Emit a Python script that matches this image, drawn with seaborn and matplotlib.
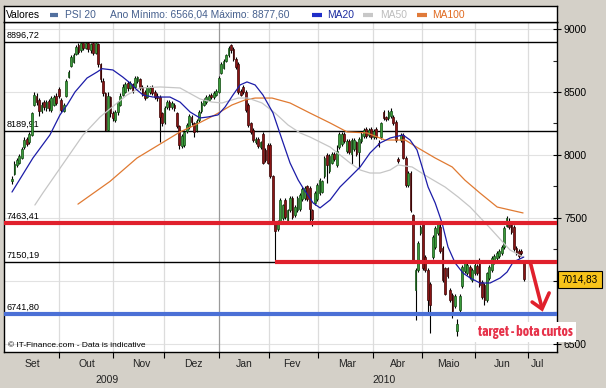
import numpy as np
import matplotlib
matplotlib.use("Agg")
import matplotlib.pyplot as plt
import matplotlib.transforms as mtransforms
from matplotlib import font_manager
import seaborn as sns

sns.set_theme(style="white")
plt.rcParams["font.family"] = ["Liberation Sans", "DejaVu Sans"]

# ---------------- data (PSI 20 daily candles, Sep 2009 - Jun 2010) ----------------
opens = [
    7795, 7850, 7920, 7940, 7980, 8060, 8130, 8100, 8160, 8400,
    8470, 8440, 8350, 8420, 8370, 8430, 8360, 8400, 8470, 8520,
    8440, 8350, 8470, 8620, 8710, 8740, 8800, 8870, 8830, 8890,
    8850, 8890, 8830, 8890, 8810, 8880, 8720, 8590, 8490, 8200,
    8460, 8330, 8280, 8340, 8400, 8480, 8500, 8570, 8530, 8560,
    8540, 8590, 8600, 8540, 8500, 8460, 8500, 8540, 8500, 8470,
    8460, 8330, 8260, 8380, 8420, 8380, 8400, 8330, 8230, 8070,
    8080, 8190, 8220, 8300, 8250, 8200, 8280, 8350, 8400, 8420,
    8440, 8480, 8460, 8480, 8500, 8650, 8690, 8750, 8790, 8870,
    8840, 8760, 8720, 8510, 8540, 8500, 8400, 8250, 8200, 8100,
    8130, 8060, 8170, 8040, 8080, 8080, 7830, 7460, 7410, 7470,
    7500, 7640, 7480, 7560, 7660, 7520, 7560, 7570, 7650, 7660,
    7750, 7740, 7560, 7620, 7650, 7700, 7710, 7830, 8000, 7870,
    7940, 8010, 7920, 8060, 8090, 8170, 8030, 8110, 8010, 8050,
    8100, 8020, 8110, 8150, 8210, 8160, 8210, 8140, 8210, 8095,
    8140, 8340, 8295, 8290, 8310, 8300, 8260, 7965, 8120, 8160,
    7980, 7760, 7860, 7520, 6930, 7090, 7380, 7460, 7190, 7090,
    6980, 7190, 7270, 7380, 7430, 7260, 7100, 7100, 6930, 6890,
    6800, 6600, 6770, 6960, 7080, 7060, 7110, 7010, 7060, 7120,
    7170, 6990, 6970, 6850, 7020, 7090, 7150, 7180, 7200, 7220,
    7270, 7440, 7480, 7460, 7430, 7260, 7240, 7235, 7150]

closes = [
    7805, 7930, 7960, 7990, 8050, 8120, 8090, 8170, 8330, 8480,
    8420, 8350, 8400, 8380, 8420, 8370, 8450, 8460, 8410, 8470,
    8360, 8400, 8590, 8660, 8780, 8790, 8860, 8820, 8890, 8850,
    8890, 8840, 8880, 8810, 8890, 8720, 8600, 8490, 8200, 8470,
    8330, 8290, 8340, 8420, 8470, 8540, 8560, 8530, 8570, 8510,
    8610, 8620, 8530, 8480, 8450, 8540, 8530, 8490, 8460, 8450,
    8300, 8250, 8370, 8420, 8380, 8410, 8370, 8230, 8080, 8150,
    8180, 8240, 8310, 8260, 8180, 8270, 8340, 8410, 8440, 8460,
    8470, 8460, 8490, 8510, 8610, 8720, 8750, 8790, 8850, 8830,
    8760, 8700, 8500, 8480, 8500, 8360, 8240, 8180, 8120, 8130,
    8070, 8100, 7940, 7960, 7940, 7830, 7470, 7400, 7470, 7640,
    7600, 7510, 7560, 7660, 7510, 7590, 7660, 7680, 7730, 7740,
    7650, 7570, 7490, 7700, 7760, 7800, 7790, 7980, 7920, 7990,
    8010, 7970, 8030, 8170, 8170, 8110, 8110, 8020, 8120, 8120,
    8010, 8130, 8170, 8200, 8150, 8200, 8140, 8190, 8140, 8085,
    8250, 8290, 8290, 8340, 8350, 8250, 8120, 7955, 8160, 7980,
    7760, 7860, 7560, 7170, 7090, 7300, 7430, 7100, 7090, 6850,
    6810, 7350, 7420, 7460, 7240, 7010, 6900, 7040, 6850, 6760,
    6880, 6660, 6880, 7110, 7140, 7130, 7030, 7090, 7130, 7060,
    6970, 6870, 6850, 7060, 7110, 7180, 7200, 7220, 7240, 7270,
    7420, 7500, 7430, 7390, 7250, 7220, 7200, 7225, 7014.83]

highs = [
    7830, 7950, 7975, 8005, 8060, 8140, 8145, 8180, 8340, 8500,
    8490, 8450, 8420, 8440, 8440, 8445, 8470, 8475, 8490, 8540,
    8450, 8415, 8600, 8675, 8790, 8810, 8875, 8890, 8896.72, 8890,
    8895, 8895, 8890, 8895, 8895, 8890, 8730, 8610, 8500, 8500,
    8470, 8350, 8360, 8430, 8490, 8560, 8580, 8590, 8590, 8575,
    8625, 8630, 8615, 8555, 8515, 8555, 8545, 8555, 8515, 8490,
    8475, 8345, 8385, 8440, 8435, 8425, 8415, 8345, 8240, 8165,
    8195, 8255, 8325, 8315, 8265, 8285, 8355, 8425, 8455, 8475,
    8485, 8495, 8505, 8525, 8625, 8735, 8765, 8805, 8865, 8877.6,
    8855, 8775, 8735, 8525, 8555, 8515, 8415, 8265, 8215, 8145,
    8145, 8115, 8185, 8055, 8095, 8095, 7845, 7475, 7485, 7655,
    7615, 7655, 7575, 7675, 7675, 7605, 7675, 7695, 7745, 7755,
    7765, 7755, 7575, 7715, 7775, 7815, 7805, 7995, 8015, 8005,
    8025, 8025, 8080, 8185, 8185, 8185, 8125, 8125, 8135, 8135,
    8115, 8145, 8185, 8215, 8225, 8215, 8225, 8205, 8225, 8120,
    8265, 8355, 8310, 8355, 8370, 8315, 8275, 7985, 8175, 8175,
    7995, 7875, 7875, 7535, 7105, 7315, 7445, 7475, 7205, 7105,
    6995, 7365, 7435, 7475, 7460, 7275, 7115, 7115, 6945, 6905,
    6895, 6700, 6895, 7125, 7155, 7145, 7125, 7105, 7145, 7135,
    7185, 7005, 6985, 7075, 7125, 7195, 7215, 7235, 7255, 7285,
    7435, 7515, 7500, 7475, 7445, 7275, 7255, 7250, 7165]

lows = [
    7770, 7840, 7905, 7930, 7970, 8050, 8075, 8090, 8150, 8390,
    8400, 8310, 8330, 8360, 8350, 8350, 8340, 8390, 8400, 8450,
    8340, 8340, 8460, 8610, 8700, 8730, 8790, 8800, 8820, 8830,
    8840, 8820, 8810, 8790, 8800, 8700, 8580, 8470, 8190, 8190,
    8300, 8270, 8260, 8320, 8390, 8470, 8490, 8510, 8520, 8490,
    8530, 8575, 8515, 8465, 8435, 8450, 8485, 8475, 8445, 8430,
    8100, 8230, 8245, 8365, 8360, 8365, 8350, 8215, 8050, 8055,
    8060, 8175, 8205, 8240, 8140, 8185, 8265, 8335, 8385, 8405,
    8425, 8445, 8445, 8465, 8490, 8640, 8680, 8735, 8780, 8810,
    8745, 8680, 8485, 8465, 8485, 8345, 8225, 8165, 8105, 8085,
    8055, 8045, 7925, 7945, 7925, 7815, 7455, 7150.19, 7395, 7455,
    7485, 7495, 7465, 7545, 7495, 7505, 7545, 7555, 7635, 7645,
    7635, 7450, 7440, 7605, 7635, 7685, 7695, 7815, 7780, 7855,
    7925, 7955, 7905, 8045, 8075, 8095, 8015, 8005, 7930, 8035,
    7995, 7900, 8095, 8135, 8135, 8145, 8125, 8125, 8125, 8060,
    8125, 8275, 8270, 8275, 8295, 8235, 8105, 7935, 8105, 7965,
    7745, 7745, 7545, 7155, 6690, 7075, 7365, 7085, 7075, 6750,
    6590, 7175, 7255, 7365, 7225, 6995, 6885, 7025, 6835, 6710,
    6785, 6566.04, 6755, 6945, 7065, 7045, 7015, 6995, 7045, 7045,
    6955, 6855, 6810, 6835, 7005, 7075, 7135, 7165, 7185, 7205,
    7255, 7425, 7415, 7375, 7235, 7205, 7185, 7210, 7000]

# moving averages at bar positions
ma20_idx = [0, 8.5, 15.4, 19.5, 22.4, 25.6, 30.5, 34.6, 36.6, 41,
            45, 48, 50.8, 53.3, 57.3, 64.2, 68.3, 72.4, 76.4, 79.7,
            83.7, 86.6, 89.8, 92.7, 95.5, 98.8, 102, 106.1, 109.8, 113,
            116.3, 118.3, 122.4, 125.2, 129.3, 133.3, 137.4, 141.5, 145.5, 149.6,
            153.7, 158.9, 161.8, 164.6, 166.7, 169.1, 172, 174.8, 177.2, 180.1,
            183.3, 186.2, 190.2, 194.3, 198.4, 201.2, 203.7, 208]
ma20_val = [7706, 7976, 8159, 8318, 8397, 8500, 8611, 8659, 8685, 8675,
            8619, 8571, 8516, 8476, 8460, 8460, 8420, 8341, 8294, 8302,
            8318, 8381, 8476, 8556, 8580, 8556, 8476, 8333, 8119, 7937,
            7802, 7738, 7619, 7580, 7643, 7746, 7825, 7905, 8016, 8095,
            8135, 8159, 8119, 8040, 7905, 7746, 7619, 7460, 7270, 7143,
            7063, 7024, 6984, 6984, 7024, 7071, 7151, 7190]

ma50_idx = [9.3, 12.6, 22.4, 28.9, 35.8, 46.7, 52, 60.2, 68.3, 76.4,
            81.3, 85.4, 91.9, 95.9, 101.6, 106.9, 112.2, 117.1, 121.1, 129.3,
            137.4, 141.5, 145.5, 149.6, 153.7, 156.9, 162.6, 169.1, 176, 181.3,
            186.2, 194.3, 202.4, 207.7]
ma50_val = [7603, 7700, 7976, 8159, 8302, 8476, 8532, 8540, 8532, 8445,
            8420, 8413, 8452, 8452, 8413, 8333, 8238, 8175, 8143, 8063,
            7937, 7881, 7857, 7857, 7881, 7921, 7905, 7825, 7746, 7667,
            7587, 7420, 7246, 7190]

ma100_idx = [26.8, 39.8, 50.8, 60.2, 68.3, 74.4, 82.5, 89.4, 94.7, 98.8,
             105.7, 113, 121.1, 129.3, 136.2, 144.3, 151.6, 159.8, 165, 172,
             178.9, 184.1, 190.2, 197.2, 207.7]
ma100_val = [7610, 7790, 7976, 8087, 8183, 8238, 8318, 8397, 8437, 8452,
             8452, 8413, 8333, 8254, 8183, 8175, 8119, 8119, 8056, 7976,
             7905, 7800, 7698, 7587, 7540]

levels = [8896.72, 8189.91, 7463.41, 7150.19, 6741.80]
level_labels = ["8896,72", "8189,91", "7463,41", "7150,19", "6741,80"]
support_start_bar = 107          # bar whose low defines the 7150,19 support

month_names = ["Set", "Out", "Nov", "Dez", "Jan", "Fev", "Mar", "Abr", "Maio", "Jun", "Jul"]
month_label_pos = [8.1, 30.5, 52.4, 73.6, 94.3, 113.8, 136.2, 156.9, 177.2, 199.2, 213.4]
month_bounds = [19.1, 41.1, 61.8, 84.1, 104.5, 124.4, 146.7, 166.7, 188.2, 209.8]
year_bound = 84.1
year_names = ["2009", "2010"]
year_pos = [38.6, 151.2]
y_ticks = [6500, 7000, 7500, 8000, 8500, 9000]
y_tick_labels = ["6500", "", "7500", "8000", "8500", "9000"]   # 7000 hidden under price box
y_minor = [6750, 7250, 7750, 8250, 8750]
last_price = 7014.83

arrow_x = [210.6, 215.4]
arrow_y = [7151, 6786]
head_x = [211.4, 215.4, 218.3]
head_y = [6833, 6778, 6905]
note_pos = (208.6, 6595)

# ---------------- figure ----------------
W, H = 606, 388
fig = plt.figure(figsize=(W / 100, H / 100), dpi=100)
fig.patch.set_facecolor("#d4d0c8")

ax = fig.add_axes([4 / W, 36 / H, 553 / W, 330 / H])
ax.set_facecolor("white")
ax.set_xlim(-3.25, 221.5)
ax.set_ylim(6436.4, 9055.6)

# grid
for v in y_ticks:
    ax.axhline(v, color="#e2e2e2", lw=0.8, zorder=0)
for b in month_bounds:
    ax.axvline(b, color="#9a9a9a" if b == year_bound else "#dcdcdc", lw=0.9, zorder=0)

# thin black levels
red = "#e0202c"
ax.axhline(levels[0], color="black", lw=1.0, zorder=1)
ax.axhline(levels[1], color="black", lw=1.0, zorder=1)
ax.hlines(levels[3], -3.25, support_start_bar, color="black", lw=1.0, zorder=1)

# level labels
lab_tr = mtransforms.offset_copy(
    mtransforms.blended_transform_factory(ax.transAxes, ax.transData), fig=fig, y=2, units="dots")
for v, t in zip(levels, level_labels):
    ax.text(0.004, v, t, transform=lab_tr, fontsize=6.6, va="bottom", ha="left",
            color="black", zorder=1.5)

# candles
xs = np.arange(len(closes))
o = np.array(opens, float); c = np.array(closes, float)
h = np.array(highs, float); l = np.array(lows, float)
up = c >= o
ax.vlines(xs, l, h, color="black", lw=0.8, zorder=2)
bh = np.abs(c - o)
mid = (o + c) / 2
bh2 = np.maximum(bh, 14)
bottom = mid - bh2 / 2
face = np.where(up, "#3a9a3a", "#8a1414")
edge = np.where(up, "#124d12", "#3c0505")
ax.bar(xs, bh2, bottom=bottom, width=0.72, color=face, edgecolor=edge, linewidth=0.5, zorder=3)

# moving averages
sns.lineplot(x=ma100_idx, y=ma100_val, ax=ax, color="#e07a32", linewidth=0.9,
             estimator=None, sort=False, zorder=4)
sns.lineplot(x=ma50_idx, y=ma50_val, ax=ax, color="#c6c6c6", linewidth=0.9,
             estimator=None, sort=False, zorder=4)
sns.lineplot(x=ma20_idx, y=ma20_val, ax=ax, color="#1c1ca8", linewidth=0.9,
             estimator=None, sort=False, zorder=4)

# thick levels
ax.axhline(levels[2], color=red, lw=3, zorder=5)
ax.hlines(levels[3], support_start_bar, 221.5, color=red, lw=3, zorder=5)
ax.axhline(levels[4], color="#4b70d6", lw=3, zorder=5)

# arrow + note
ax.plot(arrow_x, arrow_y, color=red, lw=2.6, solid_capstyle="butt", zorder=6, clip_on=False)
ax.plot(head_x, head_y, color=red, lw=2.6, solid_joinstyle="miter", zorder=6, clip_on=False)

narrow = None
for f in font_manager.fontManager.ttflist:
    if "Narrow" in f.name or "Condensed" in f.name:
        if f.weight in ("bold", 700) or "Bold" in f.fname:
            narrow = f.name
            break
if narrow:
    note_font = dict(family=[narrow, "Liberation Sans"], fontsize=10, fontweight="bold")
else:
    note_font = dict(family=["Liberation Sans", "DejaVu Sans"], fontsize=8.6, fontweight="bold")
ax.text(note_pos[0], note_pos[1], "target - bota curtos", color="#e6324a",
        ha="center", va="center", zorder=7, clip_on=False,
        bbox=dict(boxstyle="square,pad=0.25", fc="white", ec="none"), **note_font)

# copyright
ax.text(0.007, 0.021, "\u00a9 IT-Finance.com - Data is indicative", transform=ax.transAxes,
        fontsize=6, va="center", ha="left", color="black", zorder=7)

# axes styling
for s in ax.spines.values():
    s.set_visible(True); s.set_color("black"); s.set_linewidth(1)
ax.yaxis.tick_right()
ax.set_yticks(y_ticks)
ax.set_yticklabels(y_tick_labels)
ax.set_yticks(y_minor, minor=True)
ax.tick_params(axis="y", which="major", direction="inout", length=6, width=0.8,
               labelsize=7.5, pad=2, right=True, left=False, colors="black")
ax.tick_params(axis="y", which="minor", direction="in", length=3, width=0.8, right=True, left=False)
ax.set_xticks(month_bounds)
ax.set_xticklabels([])
ax.tick_params(axis="x", direction="out", length=4, width=0.8, bottom=True, colors="black")
ax.set_xlabel(""); ax.set_ylabel("")

xt = mtransforms.blended_transform_factory(ax.transData, ax.transAxes)
for n, p in zip(month_names, month_label_pos):
    ax.text(p, -0.036, n, transform=xt, ha="center", va="center", fontsize=7.5, color="#222222")
for n, p in zip(year_names, year_pos):
    ax.text(p, -0.085, n, transform=xt, ha="center", va="center", fontsize=7.5, color="#222222")

# last price box
pt = mtransforms.blended_transform_factory(ax.transAxes, ax.transData)
ax.text(1.0416, last_price, f"{last_price:.2f}".replace(".", ","), transform=pt, ha="center",
        va="center", fontsize=7.2, color="black", zorder=10, clip_on=False,
        bbox=dict(boxstyle="square,pad=0.35", fc="#f7c31a", ec="black", lw=0.8))

# legend strip
lax = fig.add_axes([4 / W, 366 / H, 553 / W, 16 / H])
lax.set_facecolor("white")
lax.set_xlim(0, 553); lax.set_ylim(0, 16)
lax.set_xticks([]); lax.set_yticks([])
for s in lax.spines.values():
    s.set_visible(True); s.set_color("black"); s.set_linewidth(1)
ly = 7.3
lax.text(1.5, ly, "Valores", fontsize=7.4, va="center", ha="left", color="black")
lax.plot([46, 54], [ly, ly], lw=3, color="#52709f", solid_capstyle="butt")
lax.text(61, ly, "PSI 20", fontsize=7.4, va="center", ha="left", color="#46608e")
lax.text(106, ly, "Ano M\u00ednimo: 6566,04 M\u00e1ximo: 8877,60", fontsize=7.4, va="center",
         ha="left", color="#46608e")
lax.plot([308, 318], [ly, ly], lw=3, color="#1f2ec8", solid_capstyle="butt")
lax.text(323, ly, "MA20", fontsize=7.4, va="center", ha="left", color="#1c2ca0")
lax.plot([359, 369], [ly, ly], lw=3, color="#c8c8c8", solid_capstyle="butt")
lax.text(376, ly, "MA50", fontsize=7.4, va="center", ha="left", color="#bdbdbd")
lax.plot([413, 423], [ly, ly], lw=3, color="#e07a3a", solid_capstyle="butt")
lax.text(428, ly, "MA100", fontsize=7.4, va="center", ha="left", color="#e06a20")

fig.savefig("out.png", dpi=100, facecolor=fig.get_facecolor())
